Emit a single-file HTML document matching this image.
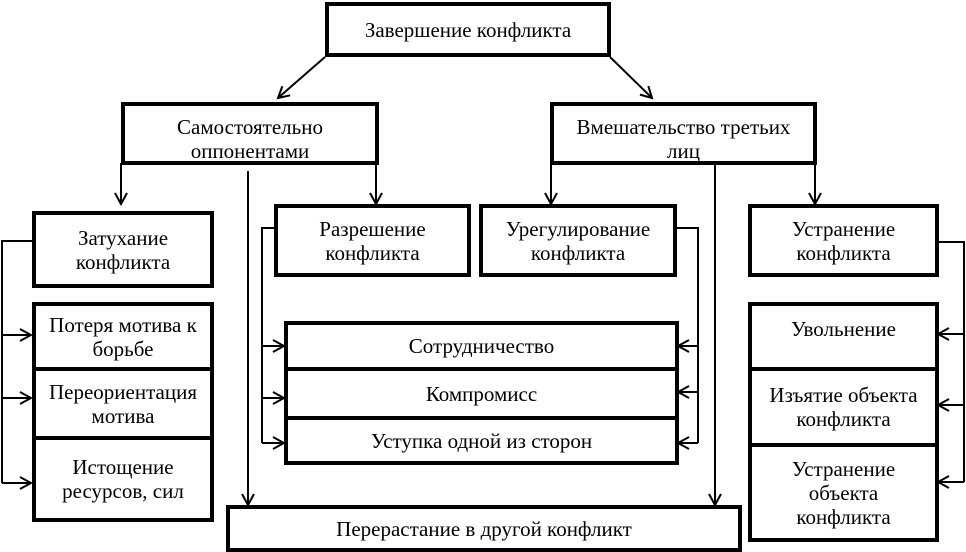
<!DOCTYPE html>
<html><head><meta charset="utf-8"><style>
body{margin:0;background:#fff;}
.b{position:absolute;border:4px solid #000;box-sizing:border-box;display:flex;align-items:center;justify-content:center;text-align:center;font-family:"Liberation Serif",serif;font-size:21px;line-height:24px;color:#000;background:#fff;overflow:hidden;white-space:nowrap}
</style></head><body>
<div style="position:relative;width:966px;height:552px;overflow:hidden">
<svg width="966" height="552" style="position:absolute;left:0;top:0" stroke="#000" stroke-width="2" fill="none">
<defs><marker id="a" markerWidth="14" markerHeight="14" refX="12" refY="7" orient="auto" markerUnits="userSpaceOnUse"><path d="M1,1 L12,7 L1,13" stroke="#000" stroke-width="2" fill="none"/></marker></defs>
<line x1="325" y1="57" x2="278" y2="98" marker-end="url(#a)"/>
<line x1="610" y1="57" x2="652" y2="98" marker-end="url(#a)"/>
<line x1="121" y1="163" x2="121" y2="204" marker-end="url(#a)"/>
<line x1="376" y1="163" x2="376" y2="204" marker-end="url(#a)"/>
<line x1="551" y1="163" x2="551" y2="204" marker-end="url(#a)"/>
<line x1="815" y1="163" x2="815" y2="204" marker-end="url(#a)"/>
<line x1="248" y1="171" x2="248" y2="505" marker-end="url(#a)"/>
<line x1="715" y1="163" x2="715" y2="505" marker-end="url(#a)"/>
<polyline points="32,241 2,241 2,483"/>
<line x1="2" y1="335" x2="31" y2="335" marker-end="url(#a)"/>
<line x1="2" y1="398" x2="31" y2="398" marker-end="url(#a)"/>
<line x1="2" y1="483" x2="31" y2="483" marker-end="url(#a)"/>
<polyline points="274,228 262,228 262,443"/>
<line x1="262" y1="346" x2="284" y2="346" marker-end="url(#a)"/>
<line x1="262" y1="398" x2="284" y2="398" marker-end="url(#a)"/>
<line x1="262" y1="443" x2="284" y2="443" marker-end="url(#a)"/>
<polyline points="676,228 698,228 698,443"/>
<line x1="698" y1="346" x2="678" y2="346" marker-end="url(#a)"/>
<line x1="698" y1="392" x2="678" y2="392" marker-end="url(#a)"/>
<line x1="698" y1="443" x2="678" y2="443" marker-end="url(#a)"/>
<polyline points="938,242 964,242 964,482"/>
<line x1="964" y1="334" x2="938" y2="334" marker-end="url(#a)"/>
<line x1="964" y1="405" x2="938" y2="405" marker-end="url(#a)"/>
<line x1="964" y1="482" x2="938" y2="482" marker-end="url(#a)"/>
</svg>
<div class="b" style="left:325px;top:2px;width:286px;height:55px">Завершение конфликта</div>
<div class="b" style="left:121px;top:102px;width:258px;height:63px;align-items:flex-start;padding-top:9px">Самостоятельно<br>оппонентами</div>
<div class="b" style="left:550px;top:102px;width:267px;height:63px;align-items:flex-start;padding-top:9px">Вмешательство третьих<br>лиц</div>
<div class="b" style="left:32px;top:211px;width:182px;height:77px">Затухание<br>конфликта</div>
<div class="b" style="left:274px;top:204px;width:197px;height:73px">Разрешение<br>конфликта</div>
<div class="b" style="left:479px;top:204px;width:198px;height:73px">Урегулирование<br>конфликта</div>
<div class="b" style="left:748px;top:204px;width:191px;height:73px">Устранение<br>конфликта</div>
<div class="b" style="left:32px;top:302px;width:182px;height:69px">Потеря мотива к<br>борьбе</div>
<div class="b" style="left:32px;top:367px;width:182px;height:73px">Переориентация<br>мотива</div>
<div class="b" style="left:32px;top:436px;width:182px;height:86px">Истощение<br>ресурсов, сил</div>
<div class="b" style="left:284px;top:321px;width:395px;height:50px">Сотрудничество</div>
<div class="b" style="left:284px;top:367px;width:395px;height:53px">Компромисс</div>
<div class="b" style="left:284px;top:416px;width:395px;height:49px">Уступка одной из сторон</div>
<div class="b" style="left:748px;top:302px;width:191px;height:70px;align-items:flex-start;padding-top:11px">Увольнение</div>
<div class="b" style="left:748px;top:367px;width:191px;height:80px">Изъятие объекта<br>конфликта</div>
<div class="b" style="left:748px;top:443px;width:191px;height:99px">Устранение<br>объекта<br>конфликта</div>
<div class="b" style="left:226px;top:505px;width:516px;height:47px">Перерастание в другой конфликт</div>
</div>
</body></html>
